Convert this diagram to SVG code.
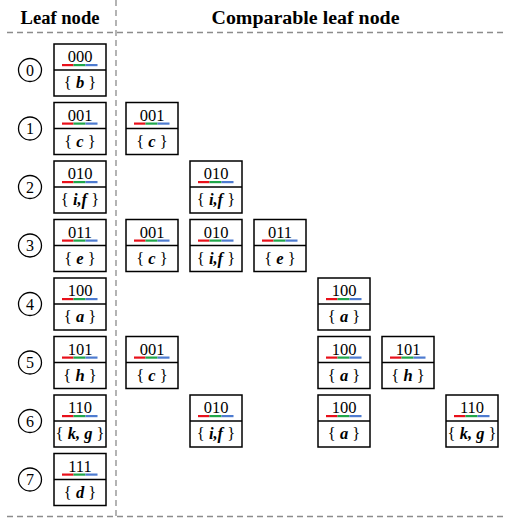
<svg xmlns="http://www.w3.org/2000/svg" xmlns:xlink="http://www.w3.org/1999/xlink" width="507" height="518" viewBox="0 0 507 518">
<style>
.bx{fill:#fff;stroke:#000;stroke-width:1.5}
.dv{stroke:#000;stroke-width:1.5}
text{font-family:'Liberation Serif','Times New Roman','DejaVu Serif',serif;fill:#000;text-anchor:middle}
.code{font-size:16.5px}
.set{font-size:16.5px}
.it{font-style:italic;font-weight:bold}
.hd{font-size:18px;font-weight:bold}
.dash{stroke:#8c8c8c;stroke-width:1.3;stroke-dasharray:6,4;fill:none}
.cir{fill:#fff;stroke:#000;stroke-width:1.3}
.num{font-size:16px}
</style>
<defs>
<g id="frame">
<rect x="0" y="0" width="52" height="52" class="bx"/>
<line x1="0" y1="26" x2="52" y2="26" class="dv"/>
<rect x="8" y="20" width="11.5" height="2.2" fill="#e8101a"/>
<rect x="19.5" y="20" width="12" height="2.2" fill="#1fa64a"/>
<rect x="31.5" y="20" width="12" height="2.2" fill="#4d7bd0"/>
</g>
</defs>
<g id="header">
<text class="hd" x="60" y="24" textLength="79" lengthAdjust="spacingAndGlyphs">Leaf node</text>
<text class="hd" x="305.5" y="24" textLength="188" lengthAdjust="spacingAndGlyphs">Comparable leaf node</text>
</g>
<g id="connectors">
<line class="dash" x1="7" y1="32.5" x2="507" y2="32.5"/>
<line class="dash" x1="116" y1="0" x2="116" y2="518"/>
<line class="dash" x1="7" y1="516.5" x2="507" y2="516.5"/>
</g>
<g id="idx">
<g id="c0"><circle class="cir" cx="30" cy="70" r="11.5"/><text class="num" x="30" y="75.5">0</text></g>
<g id="c1"><circle class="cir" cx="30" cy="128.5" r="11.5"/><text class="num" x="30" y="134">1</text></g>
<g id="c2"><circle class="cir" cx="30" cy="187" r="11.5"/><text class="num" x="30" y="192.5">2</text></g>
<g id="c3"><circle class="cir" cx="30" cy="245.5" r="11.5"/><text class="num" x="30" y="251">3</text></g>
<g id="c4"><circle class="cir" cx="30" cy="304" r="11.5"/><text class="num" x="30" y="309.5">4</text></g>
<g id="c5"><circle class="cir" cx="30" cy="362.5" r="11.5"/><text class="num" x="30" y="368">5</text></g>
<g id="c6"><circle class="cir" cx="30" cy="421" r="11.5"/><text class="num" x="30" y="426.5">6</text></g>
<g id="c7"><circle class="cir" cx="30" cy="479.5" r="11.5"/><text class="num" x="30" y="485">7</text></g>
</g>
<g id="leaf0" transform="translate(54,44)"><use href="#frame"/><text class="code" x="26" y="18">000</text><text class="set" x="26" y="44">{ <tspan class="it">b</tspan> }</text></g>
<g id="leaf1" transform="translate(54,102.5)"><use href="#frame"/><text class="code" x="26" y="18">001</text><text class="set" x="26" y="44">{ <tspan class="it">c</tspan> }</text></g>
<g id="leaf2" transform="translate(54,161)"><use href="#frame"/><text class="code" x="26" y="18">010</text><text class="set" x="26" y="44">{ <tspan class="it">i,f</tspan> }</text></g>
<g id="leaf3" transform="translate(54,219.5)"><use href="#frame"/><text class="code" x="26" y="18">011</text><text class="set" x="26" y="44">{ <tspan class="it">e</tspan> }</text></g>
<g id="leaf4" transform="translate(54,278)"><use href="#frame"/><text class="code" x="26" y="18">100</text><text class="set" x="26" y="44">{ <tspan class="it">a</tspan> }</text></g>
<g id="leaf5" transform="translate(54,336.5)"><use href="#frame"/><text class="code" x="26" y="18">101</text><text class="set" x="26" y="44">{ <tspan class="it">h</tspan> }</text></g>
<g id="leaf6" transform="translate(54,395)"><use href="#frame"/><text class="code" x="26" y="18">110</text><text class="set" x="26" y="44">{ <tspan class="it">k, g</tspan> }</text></g>
<g id="leaf7" transform="translate(54,453.5)"><use href="#frame"/><text class="code" x="26" y="18">111</text><text class="set" x="26" y="44">{ <tspan class="it">d</tspan> }</text></g>
<g id="r1c1" transform="translate(126,102.5)"><use href="#frame"/><text class="code" x="26" y="18">001</text><text class="set" x="26" y="44">{ <tspan class="it">c</tspan> }</text></g>
<g id="r2c2" transform="translate(190,161)"><use href="#frame"/><text class="code" x="26" y="18">010</text><text class="set" x="26" y="44">{ <tspan class="it">i,f</tspan> }</text></g>
<g id="r3c1" transform="translate(126,219.5)"><use href="#frame"/><text class="code" x="26" y="18">001</text><text class="set" x="26" y="44">{ <tspan class="it">c</tspan> }</text></g>
<g id="r3c2" transform="translate(190,219.5)"><use href="#frame"/><text class="code" x="26" y="18">010</text><text class="set" x="26" y="44">{ <tspan class="it">i,f</tspan> }</text></g>
<g id="r3c3" transform="translate(254,219.5)"><use href="#frame"/><text class="code" x="26" y="18">011</text><text class="set" x="26" y="44">{ <tspan class="it">e</tspan> }</text></g>
<g id="r4c4" transform="translate(318,278)"><use href="#frame"/><text class="code" x="26" y="18">100</text><text class="set" x="26" y="44">{ <tspan class="it">a</tspan> }</text></g>
<g id="r5c1" transform="translate(126,336.5)"><use href="#frame"/><text class="code" x="26" y="18">001</text><text class="set" x="26" y="44">{ <tspan class="it">c</tspan> }</text></g>
<g id="r5c4" transform="translate(318,336.5)"><use href="#frame"/><text class="code" x="26" y="18">100</text><text class="set" x="26" y="44">{ <tspan class="it">a</tspan> }</text></g>
<g id="r5c5" transform="translate(382,336.5)"><use href="#frame"/><text class="code" x="26" y="18">101</text><text class="set" x="26" y="44">{ <tspan class="it">h</tspan> }</text></g>
<g id="r6c2" transform="translate(190,395)"><use href="#frame"/><text class="code" x="26" y="18">010</text><text class="set" x="26" y="44">{ <tspan class="it">i,f</tspan> }</text></g>
<g id="r6c4" transform="translate(318,395)"><use href="#frame"/><text class="code" x="26" y="18">100</text><text class="set" x="26" y="44">{ <tspan class="it">a</tspan> }</text></g>
<g id="r6c6" transform="translate(446,395)"><use href="#frame"/><text class="code" x="26" y="18">110</text><text class="set" x="26" y="44">{ <tspan class="it">k, g</tspan> }</text></g>
</svg>
